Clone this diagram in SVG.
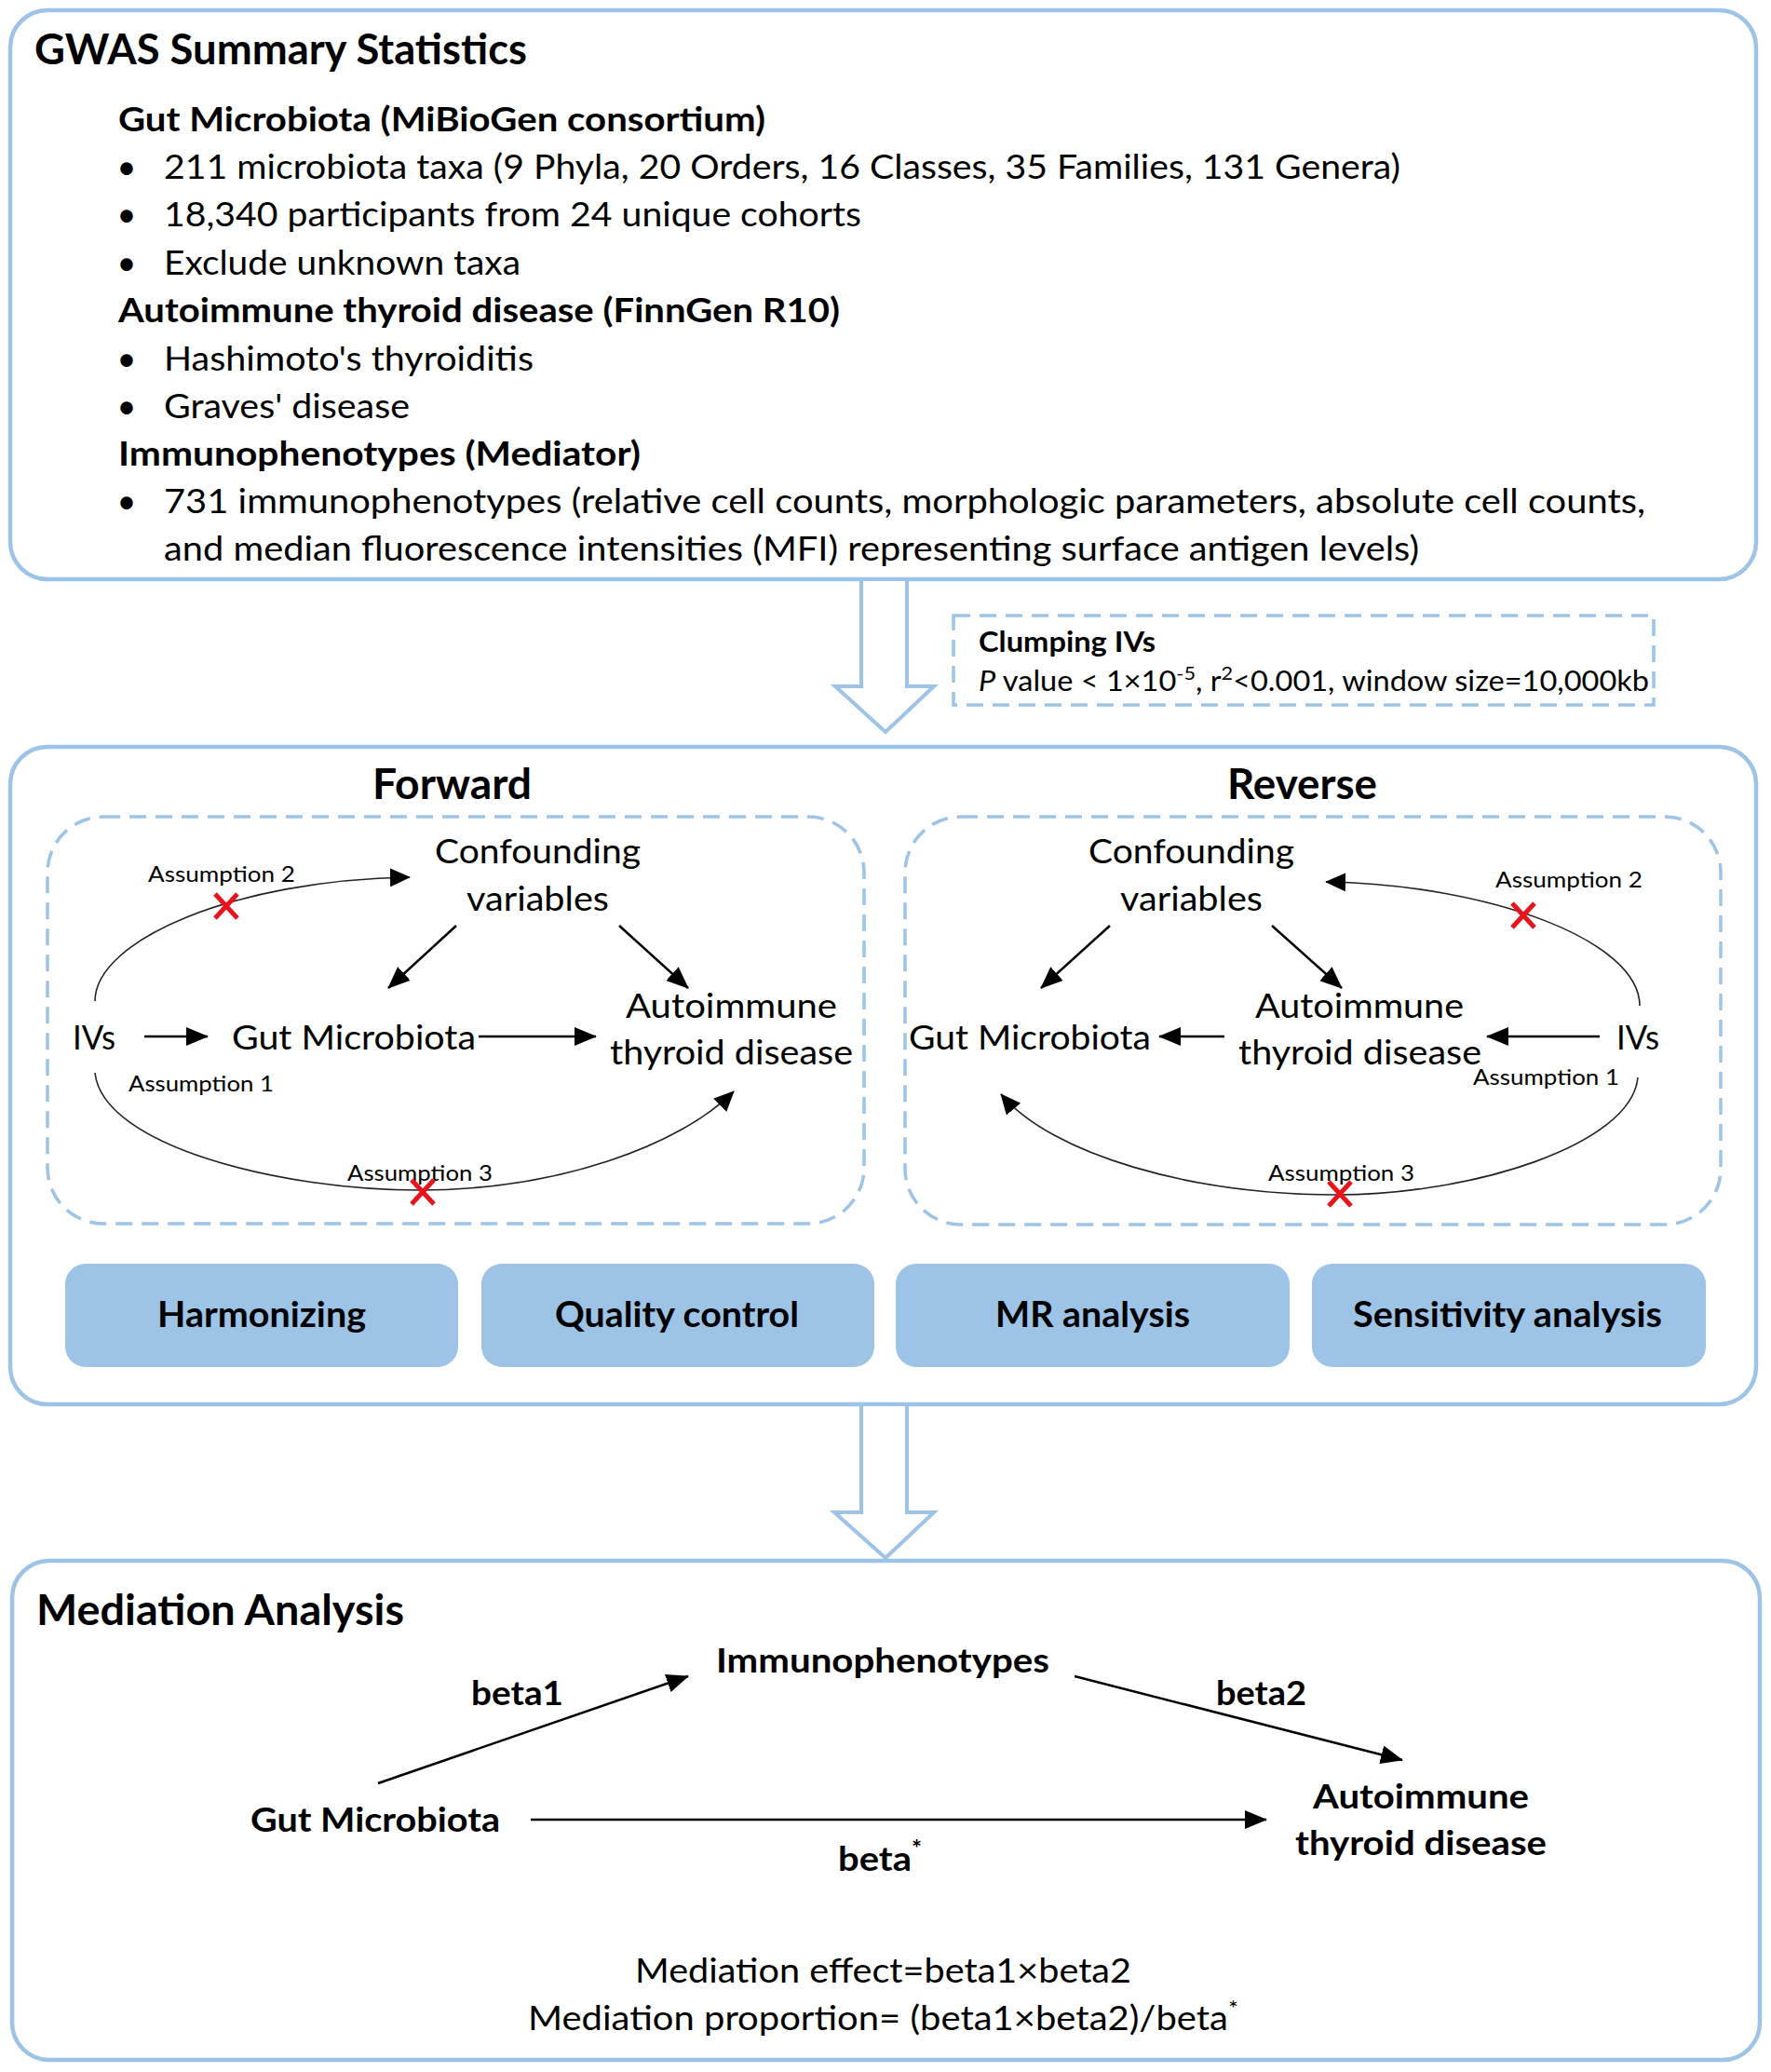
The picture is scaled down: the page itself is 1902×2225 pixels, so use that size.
<svg xmlns="http://www.w3.org/2000/svg" width="1902" height="2225" viewBox="0 0 1902 2225">
<style>
text{font-family:Lato,"Liberation Sans",sans-serif;fill:#000}
.b{font-weight:bold}
.box{fill:#fff;stroke:#9dc3e6;stroke-width:4.5}
.dash{fill:none;stroke:#9dc3e6;stroke-width:3.5;stroke-dasharray:18 10}
.hollow{fill:#fff;stroke:#9dc3e6;stroke-width:4}
.btn{fill:#9dc3e6;stroke:none}
.ln{stroke:#000;stroke-width:2.5;fill:none}
.cv{stroke:#222;stroke-width:1.6;fill:none}
.x{stroke:#e8141c;stroke-width:5;stroke-linecap:butt}
.t1{font-size:46px}
.t2{font-size:36px}
.t3{font-size:37px}
.t4{font-size:24px}
.t5{font-size:30px}
.t6{font-size:38px}
</style>
<defs>
<marker id="ah" markerUnits="userSpaceOnUse" markerWidth="24" markerHeight="20" refX="23" refY="10" orient="auto"><path d="M0,0 L24,10 L0,20 z" fill="#000"/></marker>
<marker id="ahs" markerUnits="userSpaceOnUse" markerWidth="22" markerHeight="20" refX="21" refY="10" orient="auto"><path d="M0,0 L22,10 L0,20 z" fill="#000"/></marker>
</defs>

<rect width="1902" height="2225" fill="#fff"/>

<!-- Top box -->
<g id="gwas">
<rect class="box" x="11" y="11" width="1875" height="611" rx="40"/>
<text class="b t1" x="37" y="69" textLength="529" lengthAdjust="spacingAndGlyphs">GWAS Summary Statistics</text>
<text class="b t2" x="127" y="141" textLength="695" lengthAdjust="spacingAndGlyphs">Gut Microbiota (MiBioGen consortium)</text>
<text class="t2" x="136" y="192" text-anchor="middle">•</text>
<text class="t2" x="176" y="192" textLength="1328" lengthAdjust="spacingAndGlyphs">211 microbiota taxa (9 Phyla, 20 Orders, 16 Classes, 35 Families, 131 Genera)</text>
<text class="t2" x="136" y="243" text-anchor="middle">•</text>
<text class="t2" x="176" y="243" textLength="749" lengthAdjust="spacingAndGlyphs">18,340 participants from 24 unique cohorts</text>
<text class="t2" x="136" y="295" text-anchor="middle">•</text>
<text class="t2" x="176" y="295" textLength="383" lengthAdjust="spacingAndGlyphs">Exclude unknown taxa</text>
<text class="b t2" x="127" y="346" textLength="775" lengthAdjust="spacingAndGlyphs">Autoimmune thyroid disease (FinnGen R10)</text>
<text class="t2" x="136" y="398" text-anchor="middle">•</text>
<text class="t2" x="176" y="398" textLength="397" lengthAdjust="spacingAndGlyphs">Hashimoto's thyroiditis</text>
<text class="t2" x="136" y="449" text-anchor="middle">•</text>
<text class="t2" x="176" y="449" textLength="264" lengthAdjust="spacingAndGlyphs">Graves' disease</text>
<text class="b t2" x="127" y="500" textLength="561" lengthAdjust="spacingAndGlyphs">Immunophenotypes (Mediator)</text>
<text class="t2" x="136" y="551" text-anchor="middle">•</text>
<text class="t2" x="176" y="551" textLength="1591" lengthAdjust="spacingAndGlyphs">731 immunophenotypes (relative cell counts, morphologic parameters, absolute cell counts,</text>
<text class="t2" x="176" y="602" textLength="1348" lengthAdjust="spacingAndGlyphs">and median fluorescence intensities (MFI) representing surface antigen levels)</text>
</g>

<!-- Hollow arrow 1 -->
<g id="arrow1">
<path class="hollow" d="M925,624 L925,737 L897,737 L951,786 L1003,737 L974,737 L974,624"/>
</g>

<!-- Clumping box -->
<g id="clumping">
<rect class="dash" x="1024" y="661" width="752" height="96"/>
<text class="b t5" x="1051" y="700" textLength="190" lengthAdjust="spacingAndGlyphs">Clumping IVs</text>
<text class="t5" x="1051" y="742" textLength="720" lengthAdjust="spacingAndGlyphs"><tspan font-style="italic">P</tspan> value &lt; 1×10<tspan dy="-12" font-size="20">-5</tspan><tspan dy="12">, r</tspan><tspan dy="-12" font-size="20">2</tspan><tspan dy="12">&lt;0.001, window size=10,000kb</tspan></text>
</g>

<!-- Middle box -->
<g id="mr">
<rect class="box" x="11" y="802" width="1875" height="706" rx="40"/>
<text class="b t1" x="400" y="858" textLength="171" lengthAdjust="spacingAndGlyphs">Forward</text>
<text class="b t1" x="1318" y="858" textLength="161" lengthAdjust="spacingAndGlyphs">Reverse</text>
</g>

<g id="forward">
<rect class="dash" x="51" y="877" width="877" height="437" rx="60"/>
<text class="t3" x="467" y="927" textLength="221" lengthAdjust="spacingAndGlyphs">Confounding</text>
<text class="t3" x="501" y="978" textLength="153" lengthAdjust="spacingAndGlyphs">variables</text>
<text class="t3" x="78" y="1127" textLength="46" lengthAdjust="spacingAndGlyphs">IVs</text>
<text class="t3" x="249" y="1127" textLength="262" lengthAdjust="spacingAndGlyphs">Gut Microbiota</text>
<text class="t3" x="672" y="1093" textLength="227" lengthAdjust="spacingAndGlyphs">Autoimmune</text>
<text class="t3" x="655" y="1143" textLength="261" lengthAdjust="spacingAndGlyphs">thyroid disease</text>
<text class="t4" x="159" y="947" textLength="158" lengthAdjust="spacingAndGlyphs">Assumption 2</text>
<text class="t4" x="138" y="1172" textLength="156" lengthAdjust="spacingAndGlyphs">Assumption 1</text>
<text class="t4" x="373" y="1268" textLength="156" lengthAdjust="spacingAndGlyphs">Assumption 3</text>
</g>

<g id="reverse">
<rect class="dash" x="972" y="877" width="876" height="438" rx="60"/>
<text class="t3" x="1169" y="927" textLength="221" lengthAdjust="spacingAndGlyphs">Confounding</text>
<text class="t3" x="1203" y="978" textLength="153" lengthAdjust="spacingAndGlyphs">variables</text>
<text class="t3" x="976" y="1127" textLength="260" lengthAdjust="spacingAndGlyphs">Gut Microbiota</text>
<text class="t3" x="1348" y="1093" textLength="224" lengthAdjust="spacingAndGlyphs">Autoimmune</text>
<text class="t3" x="1330" y="1143" textLength="261" lengthAdjust="spacingAndGlyphs">thyroid disease</text>
<text class="t3" x="1736" y="1127" textLength="46" lengthAdjust="spacingAndGlyphs">IVs</text>
<text class="t4" x="1606" y="953" textLength="158" lengthAdjust="spacingAndGlyphs">Assumption 2</text>
<text class="t4" x="1582" y="1165" textLength="157" lengthAdjust="spacingAndGlyphs">Assumption 1</text>
<text class="t4" x="1362" y="1268" textLength="157" lengthAdjust="spacingAndGlyphs">Assumption 3</text>
</g>

<g id="btn-harmonizing">
<rect class="btn" x="70" y="1357" width="422" height="111" rx="22"/>
<text class="b t6" x="169" y="1425" textLength="224" lengthAdjust="spacingAndGlyphs">Harmonizing</text>
</g>
<g id="btn-quality">
<rect class="btn" x="517" y="1357" width="422" height="111" rx="22"/>
<text class="b t6" x="596" y="1425" textLength="262" lengthAdjust="spacingAndGlyphs">Quality control</text>
</g>
<g id="btn-mr">
<rect class="btn" x="962" y="1357" width="423" height="111" rx="22"/>
<text class="b t6" x="1069" y="1425" textLength="209" lengthAdjust="spacingAndGlyphs">MR analysis</text>
</g>
<g id="btn-sensitivity">
<rect class="btn" x="1409" y="1357" width="423" height="111" rx="22"/>
<text class="b t6" x="1453" y="1425" textLength="332" lengthAdjust="spacingAndGlyphs">Sensitivity analysis</text>
</g>

<!-- Hollow arrow 2 -->
<g id="arrow2">
<path class="hollow" d="M925,1510 L925,1624 L896,1624 L951,1673 L1003,1624 L974,1624 L974,1510"/>
</g>

<!-- Bottom box -->
<g id="mediation">
<rect class="box" x="13" y="1676" width="1877" height="536" rx="40"/>
<text class="b t1" x="39" y="1745" textLength="395" lengthAdjust="spacingAndGlyphs">Mediation Analysis</text>
<text class="b t3" x="769" y="1796" textLength="358" lengthAdjust="spacingAndGlyphs">Immunophenotypes</text>
<text class="b t3" x="506" y="1831" textLength="99" lengthAdjust="spacingAndGlyphs">beta1</text>
<text class="b t3" x="1306" y="1831" textLength="97" lengthAdjust="spacingAndGlyphs">beta2</text>
<text class="b t3" x="269" y="1967" textLength="268" lengthAdjust="spacingAndGlyphs">Gut Microbiota</text>
<text class="b t3" x="900" y="2009" textLength="90" lengthAdjust="spacingAndGlyphs">beta<tspan dy="-15" font-size="24">*</tspan></text>
<text class="b t3" x="1410" y="1942" textLength="232" lengthAdjust="spacingAndGlyphs">Autoimmune</text>
<text class="b t3" x="1391" y="1992" textLength="270" lengthAdjust="spacingAndGlyphs">thyroid disease</text>
<text class="t3" x="682" y="2129" textLength="533" lengthAdjust="spacingAndGlyphs">Mediation effect=beta1×beta2</text>
<text class="t3" x="567" y="2180" textLength="763" lengthAdjust="spacingAndGlyphs">Mediation proportion= (beta1×beta2)/beta<tspan dy="-15" font-size="24">*</tspan></text>
</g>

<!-- Connectors -->
<g id="connectors">
<line class="ln" x1="490" y1="994" x2="417" y2="1061" marker-end="url(#ah)"/>
<line class="ln" x1="665" y1="994" x2="739" y2="1061" marker-end="url(#ah)"/>
<line class="ln" x1="155" y1="1113" x2="223" y2="1113" marker-end="url(#ah)"/>
<line class="ln" x1="514" y1="1113" x2="640" y2="1113" marker-end="url(#ah)"/>
<path class="cv" d="M102,1075 C102,1010 250,945 440,942" marker-end="url(#ahs)"/>
<path class="cv" d="M102,1152 C110,1230 300,1278 449,1278 C600,1278 730,1230 788,1172" marker-end="url(#ahs)"/>

<line class="ln" x1="1192" y1="994" x2="1118" y2="1061" marker-end="url(#ah)"/>
<line class="ln" x1="1366" y1="994" x2="1441" y2="1061" marker-end="url(#ah)"/>
<line class="ln" x1="1315" y1="1113" x2="1245" y2="1113" marker-end="url(#ah)"/>
<line class="ln" x1="1718" y1="1113" x2="1597" y2="1113" marker-end="url(#ah)"/>
<path class="cv" d="M1761,1080 C1761,1010 1600,950 1424,947" marker-end="url(#ahs)"/>
<path class="cv" d="M1759,1157 C1752,1230 1580,1283 1436,1283 C1280,1283 1130,1240 1075,1175" marker-end="url(#ahs)"/>

<line class="ln" x1="406" y1="1915" x2="739" y2="1800" marker-end="url(#ah)"/>
<line class="ln" x1="1154" y1="1800" x2="1506" y2="1890" marker-end="url(#ah)"/>
<line class="ln" x1="570" y1="1954" x2="1360" y2="1954" marker-end="url(#ah)"/>
</g>

<!-- Red crosses -->
<g id="crosses">
<path class="x" d="M231,960 L255,986 M255,960 L231,986"/>
<path class="x" d="M442,1267 L466,1293 M466,1267 L442,1293"/>
<path class="x" d="M1624,970 L1648,996 M1648,970 L1624,996"/>
<path class="x" d="M1427,1269 L1451,1295 M1451,1269 L1427,1295"/>
</g>
</svg>
